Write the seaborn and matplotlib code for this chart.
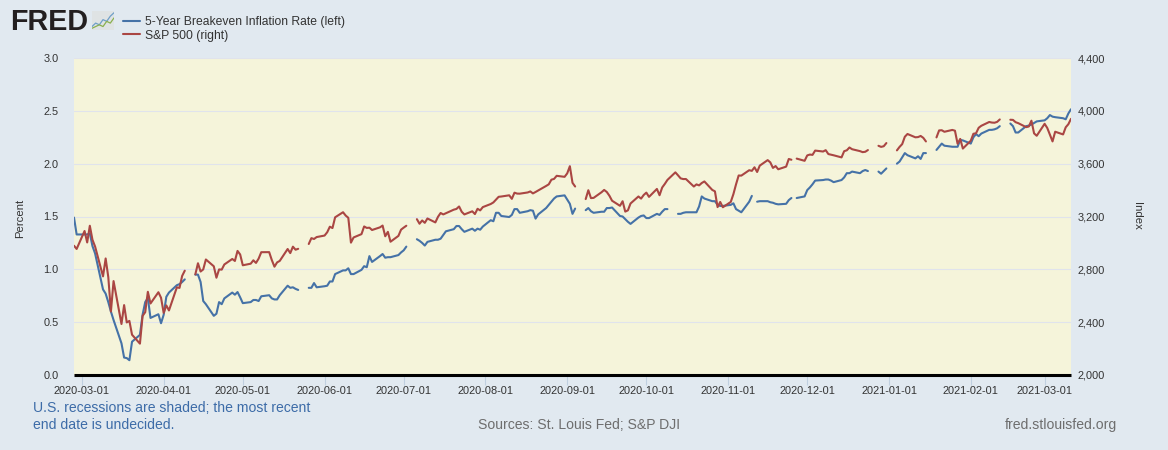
import numpy as np
import pandas as pd
import matplotlib
matplotlib.use("Agg")
import matplotlib.pyplot as plt
import matplotlib.dates as mdates
from matplotlib.lines import Line2D
from matplotlib.ticker import FuncFormatter, MultipleLocator
import seaborn as sns

start_date = "2020-02-27"
end_date = "2021-03-11"
market_closed = ["2020-04-10", "2020-05-25", "2020-07-03", "2020-09-07", "2020-11-26",
                 "2020-12-25", "2021-01-01", "2021-01-18", "2021-02-15"]
bond_closed = ["2020-10-12", "2020-11-11"]

breakeven = [
    1.49, 1.33, 1.33, 1.33, 1.34, 1.22, 1.15, .81, .77, .69, .60, .52, .30, .165, .16, .14, .315,
    .38, .57, .69, .73, .54, .575, .49, .57, .74, .78, .85, .86, .88, .905,
    .95, .95, .88, .70, .67, .56, .58, .69, .67, .725, .78, .76, .785, .735, .68, .69, .71, .71, .70, .745,
    .755, .725, .715, .715, .755, .845, .825, .83, .815, .805,
    .825, .825, .87, .83, .84, .845, .885, .885, .955, .99, .99, 1.01, .955, .955,
    .995, 1.03, 1.02, 1.125, 1.07, 1.125, 1.145, 1.11, 1.115, 1.115, 1.135, 1.16, 1.18, 1.215,
    1.285, 1.27, 1.25, 1.225, 1.26, 1.28, 1.28, 1.29, 1.325, 1.36, 1.38, 1.41, 1.41, 1.38, 1.355,
    1.385, 1.365, 1.385, 1.375, 1.405, 1.465, 1.455, 1.535, 1.535, 1.505,
    1.495, 1.515, 1.57, 1.57, 1.535, 1.55, 1.56, 1.555, 1.48, 1.52, 1.58, 1.61, 1.64, 1.67, 1.69,
    1.70, 1.66, 1.62, 1.525, 1.575,
    1.56, 1.58, 1.55, 1.535, 1.545, 1.545, 1.58, 1.58, 1.585, 1.505, 1.50, 1.475, 1.45, 1.43,
    1.49, 1.505, 1.51, 1.485, 1.485, 1.525, 1.515, 1.545, 1.57, 1.57,
    1.525, 1.525, 1.535, 1.54, 1.54, 1.54, 1.595, 1.69, 1.67, 1.645, 1.645, 1.61, 1.60, 1.60,
    1.61, 1.625, 1.57, 1.555, 1.54, 1.64, 1.695,
    1.64, 1.645, 1.645, 1.635, 1.63, 1.62, 1.615, 1.62, 1.655, 1.675,
    1.675, 1.69, 1.75, 1.775, 1.805, 1.84, 1.845, 1.85, 1.85, 1.84, 1.825,
    1.845, 1.87, 1.91, 1.91, 1.925, 1.91, 1.93, 1.94, 1.93,
    1.925, 1.905, 1.93, 1.955,
    2.00, 2.02, 2.06, 2.10, 2.08, 2.05, 2.07, 2.045, 2.10, 2.10,
    2.13, 2.16, 2.19, 2.17, 2.16, 2.16, 2.16, 2.225, 2.22, 2.19, 2.25, 2.28, 2.26, 2.285,
    2.32, 2.32, 2.325, 2.335, 2.355,
    2.38, 2.355, 2.295, 2.295, 2.355, 2.36, 2.37, 2.385, 2.40, 2.41, 2.43, 2.46, 2.445, 2.44,
    2.43, 2.42, 2.475, 2.515,
]

sp500 = [
    2978.76, 2954.22, 3090.23, 3003.37, 3130.12, 3023.94, 2972.37, 2746.56, 2882.23, 2741.38, 2480.64, 2711.02,
    2386.13, 2529.19, 2398.10, 2409.39, 2304.92, 2237.40, 2447.33, 2475.56, 2630.07, 2541.47,
    2626.65, 2584.59, 2470.50, 2526.90, 2488.65, 2663.68, 2659.41, 2749.98, 2789.82,
    2761.63, 2846.06, 2783.36, 2799.55, 2874.56, 2823.16, 2736.56, 2799.31, 2797.80, 2836.74,
    2878.48, 2863.39, 2939.51, 2912.43, 2830.71, 2842.74, 2868.44, 2848.42, 2881.19, 2929.80,
    2930.19, 2870.12, 2820.00, 2852.50, 2863.70, 2953.91, 2922.94, 2971.61, 2948.51, 2955.45,
    2991.77, 3036.13, 3029.73, 3044.31, 3055.73, 3080.82, 3122.87, 3112.35, 3193.93,
    3232.39, 3207.18, 3190.14, 3002.10, 3041.31, 3066.59, 3124.74, 3113.49, 3115.34, 3097.74,
    3117.86, 3131.29, 3050.33, 3083.76, 3009.05, 3053.24, 3100.29, 3115.86, 3130.01,
    3179.72, 3145.32, 3169.94, 3152.05, 3185.04, 3155.22, 3197.52, 3226.56, 3215.57, 3224.73,
    3251.84, 3257.30, 3276.02, 3235.66, 3215.63, 3239.41, 3218.44, 3258.44, 3246.22, 3271.12,
    3294.61, 3306.51, 3327.77, 3349.16, 3351.28, 3360.47, 3333.69, 3380.35, 3373.43, 3372.85,
    3381.99, 3389.78, 3374.85, 3385.51, 3397.16, 3431.28, 3443.62, 3478.73, 3484.55, 3508.01,
    3500.31, 3526.65, 3580.84, 3455.06, 3426.96,
    3331.84, 3398.96, 3339.19, 3340.97, 3383.54, 3401.20, 3385.49, 3357.01, 3319.47,
    3281.06, 3315.57, 3236.92, 3246.59, 3298.46, 3351.60, 3335.47, 3363.00, 3380.80, 3348.44,
    3408.63, 3360.97, 3419.44, 3446.83, 3477.14, 3534.22, 3511.93, 3488.67, 3483.34, 3483.81,
    3426.92, 3443.12, 3435.56, 3453.49, 3465.39, 3400.97, 3390.68, 3271.03, 3310.11, 3269.96,
    3310.24, 3369.16, 3443.44, 3510.45, 3509.44, 3550.50, 3545.53, 3572.66, 3537.01, 3585.15,
    3626.91, 3609.53, 3567.79, 3581.87, 3557.54, 3577.59, 3635.41, 3629.65,
    3638.35, 3621.63, 3662.45, 3669.01, 3666.72, 3699.12, 3691.96, 3702.25, 3672.82, 3668.10, 3663.46,
    3647.49, 3694.62, 3701.17, 3722.48, 3709.41, 3694.92, 3687.26, 3690.01, 3703.06,
    3735.36, 3727.04, 3732.04, 3756.07,
    3700.65, 3726.86, 3748.14, 3803.79, 3824.68, 3799.61, 3801.19, 3809.84, 3795.54, 3768.25,
    3798.91, 3851.85, 3853.07, 3841.47, 3855.36, 3849.62, 3750.77, 3787.38, 3714.24,
    3773.86, 3826.31, 3830.17, 3871.74, 3886.83, 3915.59, 3911.23, 3909.88, 3916.38, 3934.83,
    3932.59, 3931.33, 3913.97, 3906.71, 3876.50, 3881.37, 3925.43, 3829.34, 3811.15,
    3901.82, 3870.29, 3819.72, 3768.47, 3841.94, 3821.35, 3875.44, 3898.81, 3939.34,
]

left_ticks = [0.0, 0.5, 1.0, 1.5, 2.0, 2.5, 3.0]
BG, PLOT, GRID = "#e1e9f0", "#f5f4da", "#e0e3ec"
BLUE, RED = "#4572a7", "#aa4643"
TICKTXT = "#333333"


def series_frame(values, closed):
    days = pd.bdate_range(start_date, end_date)
    keep = days[~days.isin(pd.to_datetime(market_closed + closed))]
    assert len(keep) == len(values), (len(keep), len(values))
    frame = pd.DataFrame({"date": keep, "value": values})
    full = days.to_series().reset_index(drop=True)
    position = full.searchsorted(frame["date"])
    frame["segment"] = (np.diff(position, prepend=position[0]) > 1).cumsum()
    return frame


sns.set_theme(style="white")
plt.rcParams["font.family"] = ["Liberation Sans", "DejaVu Sans"]

fig = plt.figure(figsize=(11.68, 4.5), dpi=100, facecolor=BG)
W, H = 1168, 450
ax = fig.add_axes([74 / W, (H - 375) / H, 997 / W, 317 / H], facecolor=PLOT)
ax2 = ax.twinx()

blue_df = series_frame(breakeven, bond_closed)
red_df = series_frame(sp500, [])
sns.lineplot(data=blue_df, x="date", y="value", units="segment", estimator=None,
             color=BLUE, linewidth=1.5, ax=ax, legend=False)
sns.lineplot(data=red_df, x="date", y="value", units="segment", estimator=None,
             color=RED, linewidth=1.5, ax=ax2, legend=False)

ax.set_xlim(pd.Timestamp(start_date), pd.Timestamp(end_date))
ax.set_ylim(0, 3)
ax2.set_ylim(2000, 4400)
ax.set_yticks(left_ticks)
ax2.yaxis.set_major_locator(MultipleLocator(400))
ax2.yaxis.set_major_formatter(FuncFormatter(lambda v, _: f"{int(v):,}"))
ax.xaxis.set_major_locator(mdates.MonthLocator())
ax.xaxis.set_major_formatter(mdates.DateFormatter("%Y-%m-%d"))
ax.grid(axis="y", color=GRID, linewidth=0.8)
ax.set_axisbelow(True)
ax2.grid(False)
ax.set_ylabel("")
ax2.set_ylabel("")
ax.set_xlabel("")

for a in (ax, ax2):
    for spine in a.spines.values():
        spine.set_visible(False)
ax2.spines["bottom"].set_visible(True)
ax2.spines["bottom"].set_color("black")
ax2.spines["bottom"].set_linewidth(2.2)
ax2.spines["bottom"].set_capstyle("butt")
ax.tick_params(axis="x", length=7.5, width=0.8, color="#c0d0e0", labelsize=7.9,
               labelcolor=TICKTXT, pad=0.7, bottom=True)
ax.tick_params(axis="y", length=0, labelsize=7.9, labelcolor=TICKTXT, pad=11)
ax2.tick_params(axis="y", length=0, labelsize=7.9, labelcolor=TICKTXT, pad=4.5)

fig.text(20 / W, 1 - 218 / H, "Percent", rotation=90, ha="center", va="center",
         fontsize=8.2, color=TICKTXT)
fig.text(1137 / W, 1 - 216 / H, "Index", rotation=270, ha="center", va="center",
         fontsize=8.2, color=TICKTXT)

handles = [Line2D([], [], color=BLUE, linewidth=1.5), Line2D([], [], color=RED, linewidth=1.5)]
fig.legend(handles, ["5-Year Breakeven Inflation Rate (left)", "S&P 500 (right)"],
           loc="upper left", bbox_to_anchor=(121 / W, 1 - 14 / H), frameon=False,
           fontsize=8.7, handlelength=1.35, handletextpad=0.4, labelspacing=0.1,
           labelcolor="#333333", borderpad=0.2, borderaxespad=0)

fig.text(10 / W, 1 - 30.5 / H, "FRED", fontsize=20.7, fontweight="bold", color="#231f20",
         ha="left", va="baseline")
icon = fig.add_axes([92 / W, 1 - 30 / H, 22 / W, 19 / H], facecolor="#dfe3e4")
icon.set_xticks([])
icon.set_yticks([])
for spine in icon.spines.values():
    spine.set_visible(False)
icon_x = [0, 1, 2, 3, 4, 5, 6]
icon.plot(icon_x, [2, 4, 3, 6, 5, 8, 10], color="#6f9fc8", linewidth=0.9)
icon.plot(icon_x, [1, 2, 3, 2, 5, 4, 7], color="#8ab04f", linewidth=0.9)
icon.set_xlim(0, 6)
icon.set_ylim(0, 11)

NOTE = "#3d6ca8"
FOOT = 10.05
fig.text(33 / W, 1 - 408 / H, "U.S. recessions are shaded; the most recent", fontsize=FOOT,
         color=NOTE, va="center", ha="left")
fig.text(33 / W, 1 - 425 / H, "end date is undecided.", fontsize=FOOT, color=NOTE,
         va="center", ha="left")
fig.text(478 / W, 1 - 425 / H, "Sources: St. Louis Fed; S&P DJI", fontsize=FOOT,
         color="#6e6e6e", va="center", ha="left")
fig.text(1117 / W, 1 - 425 / H, "fred.stlouisfed.org", fontsize=FOOT, color="#6e6e6e",
         va="center", ha="right")

fig.savefig("out.png", dpi=100, facecolor=BG)
